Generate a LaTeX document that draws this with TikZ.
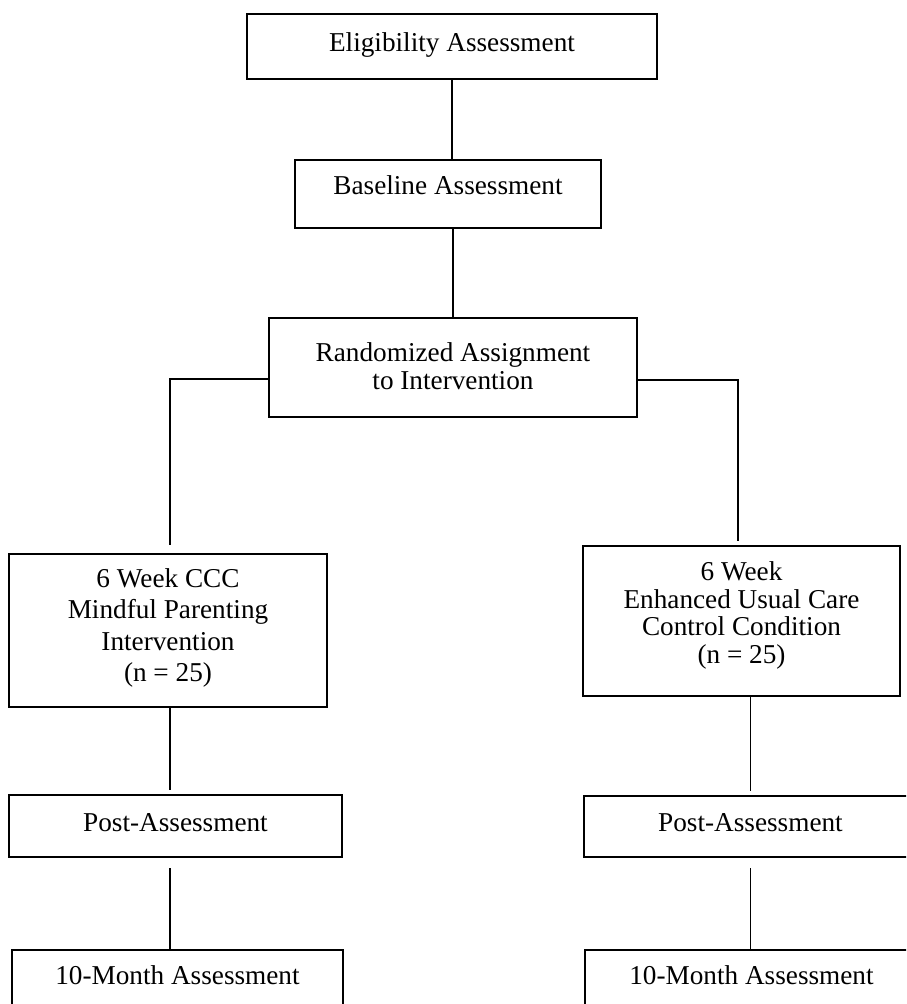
\documentclass[tikz,border=0pt]{standalone}
\usepackage{fontspec}
\setmainfont{Liberation Serif}

\tikzset{
    box/.style={draw, line width=0.04cm, inner xsep=0pt, inner ysep=0pt, align=center,
        font=\fontsize{15.5}{15.6}\selectfont},
    link/.style={line width=0.026cm}
}

\begin{document}
\begin{tikzpicture}[x=0.02cm, y=-0.02cm]
    % Page area (the lower boxes run off the page)
    \clip (0,0) rectangle (906,1004);

    % Boxes of the common path
    \node [box, minimum width=8.2cm, minimum height=1.3cm, text height=0.76cm, text depth=0.54cm] (elig) at (452,46.5) {Eligibility Assessment};
    \node [box, minimum width=6.12cm, minimum height=1.36cm, text height=0.68cm, text depth=0.68cm] (base) at (448,194) {Baseline Assessment};
    \node [box, minimum width=7.36cm, minimum height=1.98cm, text height=1.42cm, text depth=0.56cm] (rand) at (453,367.5) {Randomized Assignment\\to Intervention};

    % Boxes of the two arms
    \node [box, minimum width=6.36cm, minimum height=3.06cm, text height=2.55cm, text depth=0.51cm,
        font=\fontsize{15.5}{17.9}\selectfont] (mcp) at (168,630.5) {6 Week CCC\\Mindful Parenting\\Intervention\\(n = 25)};
    \node [box, minimum width=6.34cm, minimum height=3.0cm, text height=2.34cm, text depth=0.66cm] (euc) at (741.5,621) {6 Week\\Enhanced Usual Care\\Control Condition\\(n = 25)};

    \node [box, minimum width=6.66cm, minimum height=1.24cm, text height=0.72cm, text depth=0.52cm] (lpost) at (175.5,826) {Post-Assessment};
    \node [box, minimum width=6.66cm, minimum height=1.22cm, text height=0.7cm, text depth=0.52cm] (rpost) at (750.5,826.5) {Post-Assessment};

    \node [box, minimum width=6.62cm, minimum height=1.24cm, text height=0.68cm, text depth=0.56cm] (lten) at (177.5,981) {10-Month Assessment};
    \node [box, minimum width=6.66cm, minimum height=1.24cm, text height=0.68cm, text depth=0.56cm] (rten) at (751.5,981) {10-Month Assessment};

    % Turning points of the split
    \coordinate (lturn) at (170,379);
    \coordinate (rturn) at (738,380);

    % Lines of the common path
    \draw [link] (elig.south) -- (elig.south |- base.north);
    \draw [link] (rand.north |- base.south) -- (rand.north);

    % Split into the two arms
    \draw [link, shorten >=0.16cm] (rand.west |- lturn) -- (lturn) -- (lturn |- mcp.north);
    \draw [link, shorten >=0.08cm] (rand.east |- rturn) -- (rturn) -- (rturn |- euc.north);

    % Lines down each arm
    \draw [link, shorten >=0.08cm] (lturn |- mcp.south) -- (lturn |- lpost.north);
    \draw [link, shorten >=0.08cm] (rpost.north |- euc.south) -- (rpost.north);
    \draw [link, shorten <=0.2cm] (lturn |- lpost.south) -- (lturn |- lten.north);
    \draw [link, shorten <=0.2cm] (rpost.south) -- (rpost.south |- rten.north);

\end{tikzpicture}
\end{document}
